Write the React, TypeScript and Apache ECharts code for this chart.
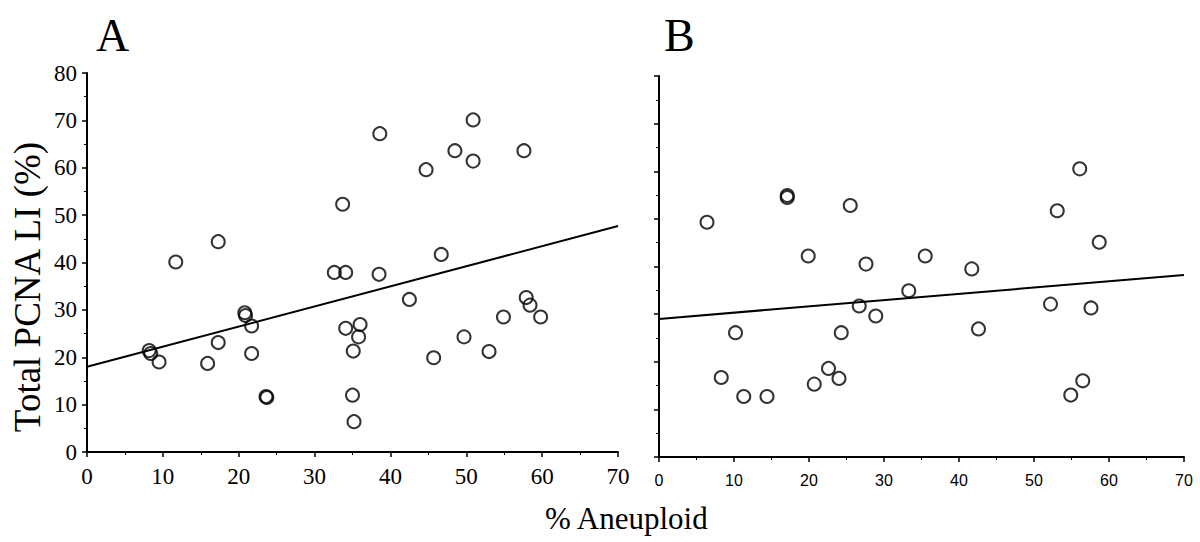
import React, { useEffect, useRef } from "react";
import * as echarts from "echarts";

// Panel A: % aneuploid vs total PCNA LI
const panelAX = [8.2, 8.4, 9.5, 11.7, 15.9, 17.3, 17.3, 20.8, 20.9, 21.7, 21.7, 23.6, 23.7, 32.6, 34.1, 33.7, 34.1, 35.1, 35.0, 35.2, 38.6, 38.5, 36.0, 35.8, 42.5, 44.7, 46.7, 45.7, 48.5, 50.9, 50.9, 49.7, 53.0, 54.9, 57.6, 57.9, 58.4, 59.8];
const panelAY = [21.4, 20.8, 19.0, 40.1, 18.7, 23.1, 44.4, 29.4, 28.8, 26.6, 20.8, 11.7, 11.5, 37.9, 37.9, 52.3, 26.1, 21.3, 12.0, 6.4, 67.2, 37.5, 26.9, 24.3, 32.2, 59.6, 41.7, 19.9, 63.6, 70.1, 61.4, 24.3, 21.2, 28.5, 63.6, 32.6, 31.0, 28.5];
const fitA = [[0, 18.0], [70, 47.7]];

// Panel B
const panelBX = [6.4, 17.1, 17.1, 25.5, 19.9, 27.6, 33.3, 26.7, 28.9, 10.2, 24.3, 8.3, 11.3, 14.4, 22.6, 24.0, 20.7, 35.5, 41.7, 42.6, 53.1, 56.1, 58.7, 52.2, 57.6, 56.5, 54.9];
const panelBY = [49.3, 54.9, 54.5, 52.8, 42.2, 40.5, 34.9, 31.7, 29.6, 26.1, 26.1, 16.7, 12.7, 12.7, 18.6, 16.5, 15.3, 42.2, 39.5, 26.9, 51.7, 60.5, 45.1, 32.1, 31.3, 16.0, 13.0];
const fitB = [[0, 29.0], [70, 38.2]];

const xTicks = [0, 10, 20, 30, 40, 50, 60, 70];
const yTicks = [0, 10, 20, 30, 40, 50, 60, 70, 80];

const SERIF = "Liberation Serif";
const SANS = "Liberation Sans";

export default function App() {
  const ref = useRef<HTMLDivElement>(null);
  useEffect(() => {
    if (!ref.current) return;
    const chart = echarts.init(ref.current, null, { renderer: "svg" });
    const axisLine = { show: true, lineStyle: { color: "#000", width: 2 } };
    const ptsA = panelAX.map((x, i) => [x, panelAY[i]]);
    const ptsB = panelBX.map((x, i) => [x, panelBY[i]]);
    const xAxisBase = (grid: number, serif: boolean) => ({
      type: "value",
      gridIndex: grid,
      min: xTicks[0],
      max: xTicks[xTicks.length - 1],
      interval: 10,
      axisLine,
      axisTick: { show: true, length: 5, lineStyle: { color: "#000", width: 1.5 } },
      minorTick: { show: true, splitNumber: 2, length: 3, lineStyle: { color: "#000", width: 1 } },
      splitLine: { show: false },
      axisLabel: serif
        ? { color: "#000", fontFamily: SERIF, fontSize: 23, margin: 13 }
        : { color: "#000", fontFamily: SANS, fontSize: 16, margin: 15 },
    });
    const yAxisBase = (grid: number, labels: boolean) => ({
      type: "value",
      gridIndex: grid,
      min: yTicks[0],
      max: yTicks[yTicks.length - 1],
      interval: 10,
      axisLine,
      axisTick: { show: true, length: 5, lineStyle: { color: "#000", width: 1.5 } },
      minorTick: { show: true, splitNumber: 2, length: 3, lineStyle: { color: "#000", width: 1 } },
      splitLine: { show: false },
      axisLabel: { show: labels, color: "#000", fontFamily: SERIF, fontSize: 23, margin: 10 },
    });
    const scatterStyle = {
      symbol: "circle",
      symbolSize: 13,
      itemStyle: { color: "rgba(255,255,255,0)", borderColor: "#000", borderWidth: 2 },
    };
    chart.setOption({
      animation: false,
      backgroundColor: "#fff",
      grid: [
        { left: 87, right: 582, top: 73, bottom: 90 },
        { left: 659, right: 16, top: 76, bottom: 85 },
      ],
      xAxis: [xAxisBase(0, true), xAxisBase(1, false)],
      yAxis: [yAxisBase(0, true), yAxisBase(1, false)],
      series: [
        { type: "scatter", xAxisIndex: 0, yAxisIndex: 0, data: ptsA, ...scatterStyle },
        { type: "line", xAxisIndex: 0, yAxisIndex: 0, data: fitA, symbol: "none", lineStyle: { color: "#000", width: 2 } },
        { type: "scatter", xAxisIndex: 1, yAxisIndex: 1, data: ptsB, ...scatterStyle },
        { type: "line", xAxisIndex: 1, yAxisIndex: 1, data: fitB, symbol: "none", lineStyle: { color: "#000", width: 2 } },
      ],
      graphic: [
        { type: "text", left: 96, top: 12, style: { text: "A", fontFamily: SERIF, fontSize: 46, fill: "#000" } },
        { type: "text", left: 664, top: 12, style: { text: "B", fontFamily: SERIF, fontSize: 46, fill: "#000" } },
        { type: "text", left: 545, top: 503, style: { text: "% Aneuploid", fontFamily: SERIF, fontSize: 31, fill: "#000" } },
        {
          type: "text",
          x: 27,
          y: 287,
          rotation: Math.PI / 2,
          style: {
            text: "Total PCNA LI (%)",
            fontFamily: SERIF,
            fontSize: 37,
            fill: "#000",
            textAlign: "center",
            textVerticalAlign: "middle",
          },
        },
      ],
    });
    return () => chart.dispose();
  }, []);
  return <div ref={ref} style={{ width: 1200, height: 542, position: "absolute", left: 0, top: 0 }} />;
}
